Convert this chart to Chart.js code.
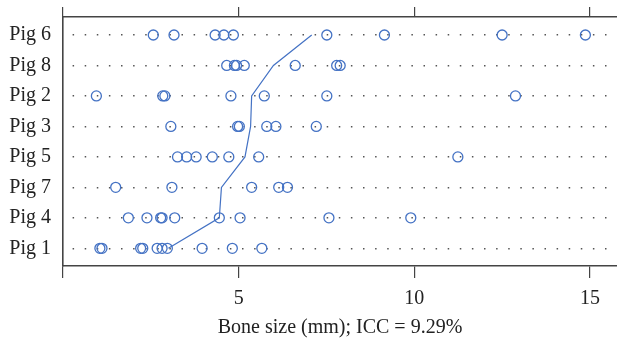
<!DOCTYPE html>
<html>
<head>
<meta charset="utf-8">
<script src="https://cdn.jsdelivr.net/npm/chart.js@4"></script>
<style>
    html, body { margin: 0; padding: 0; background: #fff; }
    #wrap { width: 617px; height: 343px; }
</style>
</head>
<body>
<div id="wrap"><canvas id="boneChart"></canvas></div>
<script>
// rows, top to bottom
const pigs = ['Pig 6', 'Pig 8', 'Pig 2', 'Pig 3', 'Pig 5', 'Pig 7', 'Pig 4', 'Pig 1'];

// bone size per measurement (mm)
const pig6 = [2.57, 3.16, 4.33, 4.58, 4.85, 7.51, 9.15, 12.50, 14.87];
const pig8 = [4.66, 4.88, 4.94, 5.16, 6.61, 7.79, 7.89];
const pig2 = [0.95, 2.84, 2.90, 4.78, 5.73, 7.51, 12.88];
const pig3 = [3.07, 4.97, 5.02, 5.80, 6.06, 7.21];
const pig5 = [3.26, 3.52, 3.79, 4.25, 4.72, 5.57, 11.24];
const pig7 = [1.50, 3.10, 5.37, 6.14, 6.39];
const pig4 = [1.86, 2.39, 2.78, 2.82, 3.18, 4.45, 5.04, 7.57, 9.90];
const pig1 = [1.05, 1.11, 2.21, 2.27, 2.68, 2.82, 2.97, 3.96, 4.82, 5.66];

// mean line, same order as pigs
const pigMeans = [7.08, 5.99, 5.37, 5.34, 5.18, 4.51, 4.45, 3.00];

const xTicks = [0, 5, 10, 15];
const xTitle = 'Bone size (mm); ICC = 9.29%';

const rows = [pig6, pig8, pig2, pig3, pig5, pig7, pig4, pig1];
const blue = '#4472C4';
const axisColor = '#444';
const serif = "'Liberation Serif', 'Times New Roman', serif";

// Pig 6 sits at the top, Pig 1 at the bottom
const rowY = i => pigs.length - i;

const points = [];
rows.forEach((vals, i) => {
    vals.forEach(v => points.push({ x: v, y: rowY(i) }));
});
const meanLine = pigMeans.map((m, i) => ({ x: m, y: rowY(i) }));

// fixed axis sizes, no extra room for the outer labels
const fixSize = (w, h) => s => {
    if (w !== null) s.width = w;
    if (h !== null) s.height = h;
    s.paddingTop = 0;
    s.paddingBottom = 0;
    s.paddingLeft = 0;
    s.paddingRight = 0;
};

const ctx = document.getElementById('boneChart').getContext('2d');
new Chart(ctx, {
    type: 'scatter',
    data: {
        datasets: [
            {
                data: points,
                pointStyle: 'circle',
                pointRadius: 5,
                pointBorderWidth: 1.3,
                borderColor: blue,
                backgroundColor: 'rgba(0,0,0,0)'
            },
            {
                type: 'line',
                data: meanLine,
                borderColor: blue,
                borderWidth: 1.2,
                pointRadius: 0,
                fill: false,
                tension: 0
            }
        ]
    },
    options: {
        responsive: true,
        maintainAspectRatio: false,
        animation: false,
        layout: { padding: 0, autoPadding: false },
        plugins: {
            legend: { display: false },
            tooltip: { enabled: false }
        },
        scales: {
            x: {
                type: 'linear',
                position: 'bottom',
                min: 0,
                max: 15.77,
                afterBuildTicks: s => { s.ticks = xTicks.map(v => ({ value: v })); },
                afterFit: fixSize(null, 77),
                grid: {
                    drawOnChartArea: false,
                    drawTicks: true,
                    tickLength: 12,
                    color: axisColor,
                    lineWidth: 1.2
                },
                border: { color: axisColor, width: 1.6 },
                ticks: {
                    padding: 8.5,
                    color: '#222',
                    font: { family: serif, size: 20 },
                    callback: v => (v === 0 ? '' : v)
                },
                title: {
                    display: true,
                    text: xTitle,
                    color: '#222',
                    font: { family: serif, size: 20 },
                    padding: { top: 0, bottom: 3.5 }
                }
            },
            xTop: {
                type: 'linear',
                position: 'top',
                min: 0,
                max: 15.77,
                afterBuildTicks: s => { s.ticks = xTicks.map(v => ({ value: v })); },
                afterFit: fixSize(null, 17),
                grid: {
                    drawOnChartArea: false,
                    drawTicks: true,
                    tickLength: 10,
                    color: axisColor,
                    lineWidth: 1.2
                },
                border: { color: axisColor, width: 1.6 },
                ticks: { display: false }
            },
            y: {
                type: 'linear',
                position: 'left',
                min: 0.42,
                max: 8.59,
                afterBuildTicks: s => { s.ticks = pigs.map((p, i) => ({ value: rowY(i) })); },
                afterFit: fixSize(63, null),
                grid: {
                    drawTicks: false,
                    color: '#555',
                    lineWidth: 1.5
                },
                // in v4 the dash of grid lines sits on border
                border: { color: axisColor, width: 1.6, dash: [1.5, 10.6], dashOffset: -9 },
                ticks: {
                    padding: 12,
                    color: '#222',
                    font: { family: serif, size: 20 },
                    callback: v => pigs[pigs.length - v]
                }
            }
        }
    }
});
</script>
</body>
</html>
